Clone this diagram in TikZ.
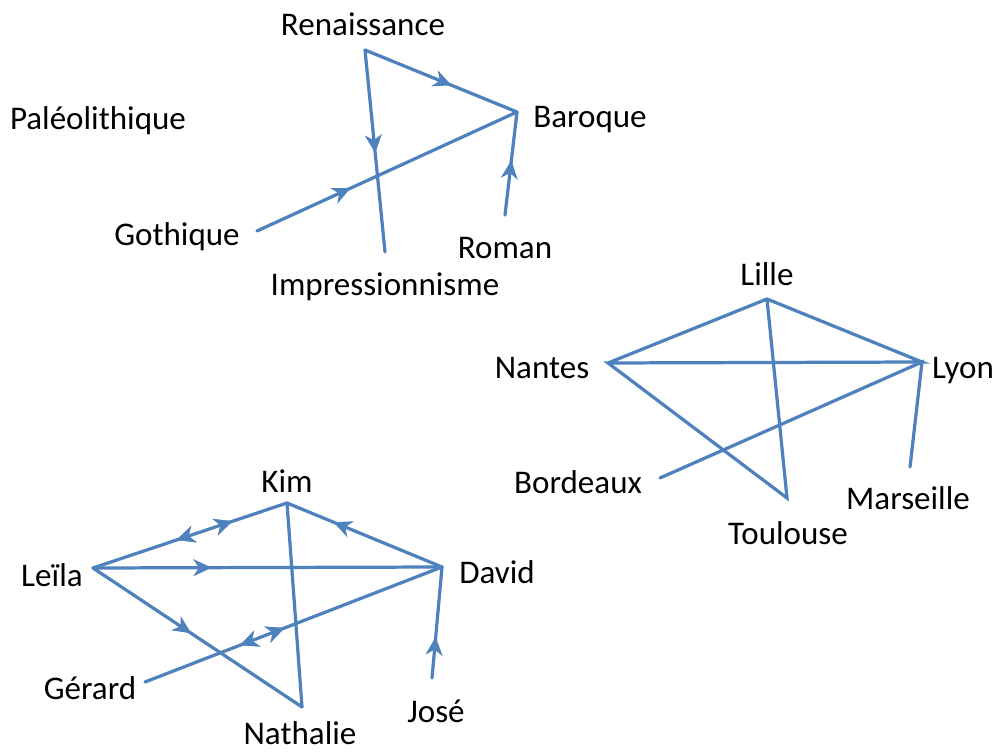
\documentclass[tikz,border=0pt]{standalone}
\usepackage{fontspec}
\setmainfont{Carlito}
\usetikzlibrary{arrows.meta,decorations.markings}

\tikzset{
  etiq/.style={anchor=base, inner sep=0pt, font=\fontsize{23.5}{28}\selectfont},
  lien/.style={lienbleu, line width=2.3pt, line cap=round},
  fleche/.style={postaction={decorate}, decoration={markings,
      mark=at position #1 with {\arrow{Stealth[length=13pt,width=12pt,inset=4pt]}}}},
  retour/.style={postaction={decorate}, decoration={markings,
      mark=at position #1 with {\arrowreversed{Stealth[length=13pt,width=12pt,inset=4pt]}}}}
}

\begin{document}
\begin{tikzpicture}[x=0.025cm, y=-0.025cm]

    % Couleur des liens
    \definecolor{lienbleu}{RGB}{79,129,189}

    \useasboundingbox (0,0) rectangle (1004,753);

    % 1. Styles artistiques
    \node[etiq] (renaissance) at (363,36) {Renaissance};
    \node[etiq] (paleo) at (98,130) {Paléolithique};
    \node[etiq] (baroque) at (590,128) {Baroque};
    \node[etiq] (gothique) at (177,246) {Gothique};
    \node[etiq] (roman) at (505,259) {Roman};
    \node[etiq] (impression) at (385,296) {Impressionnisme};

    \coordinate (renP) at (365,50);
    \coordinate (barP) at (517,112);
    \coordinate (gotP) at (257,231);
    \coordinate (impP) at (385,252);
    \coordinate (romP) at (505,215);

    \draw[lien, fleche=0.57] (renP) -- (barP);
    \draw[lien, fleche=0.51] (renP) -- (impP);
    \draw[lien, fleche=0.36] (gotP) -- (barP);
    \draw[lien, fleche=0.53] (romP) -- (barP);

    % 2. Villes
    \node[etiq] (lille) at (767,286) {Lille};
    \node[etiq] (nantes) at (542,378) {Nantes};
    \node[etiq] (lyon) at (963,378) {Lyon};
    \node[etiq] (bordeaux) at (578,493) {Bordeaux};
    \node[etiq] (marseille) at (908,509) {Marseille};
    \node[etiq] (toulouse) at (788,544) {Toulouse};

    \coordinate (lilP) at (767,299);
    \coordinate (nanP) at (608,363);
    \coordinate (lyoP) at (922,362);
    \coordinate (borP) at (660,478);
    \coordinate (touP) at (787,498);
    \coordinate (marP) at (910,467);

    \draw[lien] (nanP) -- (lilP) -- (lyoP) -- (nanP) -- (touP) -- (lilP);
    \draw[lien] (borP) -- (lyoP) -- (marP);

    % 3. Personnes
    \node[etiq] (kim) at (287,492) {Kim};
    \node[etiq] (leila) at (52,586) {Leïla};
    \node[etiq] (david) at (497,583) {David};
    \node[etiq] (gerard) at (90,699) {Gérard};
    \node[etiq] (nathalie) at (300,744) {Nathalie};
    \node[etiq] (jose) at (436,722) {José};

    \coordinate (kimP) at (287,503);
    \coordinate (leiP) at (93,568);
    \coordinate (davP) at (442,567);
    \coordinate (gerP) at (145,682);
    \coordinate (natP) at (302,707);
    \coordinate (josP) at (432,678);

    \draw[lien, retour=0.43, fleche=0.72] (leiP) -- (kimP);
    \draw[lien, fleche=0.34] (leiP) -- (davP);
    \draw[lien, fleche=0.47] (leiP) -- (natP);
    \draw[lien, fleche=0.70] (davP) -- (kimP);
    \draw[lien, retour=0.32, fleche=0.47] (gerP) -- (davP);
    \draw[lien, fleche=0.37] (josP) -- (davP);
    \draw[lien] (kimP) -- (natP);

\end{tikzpicture}
\end{document}
